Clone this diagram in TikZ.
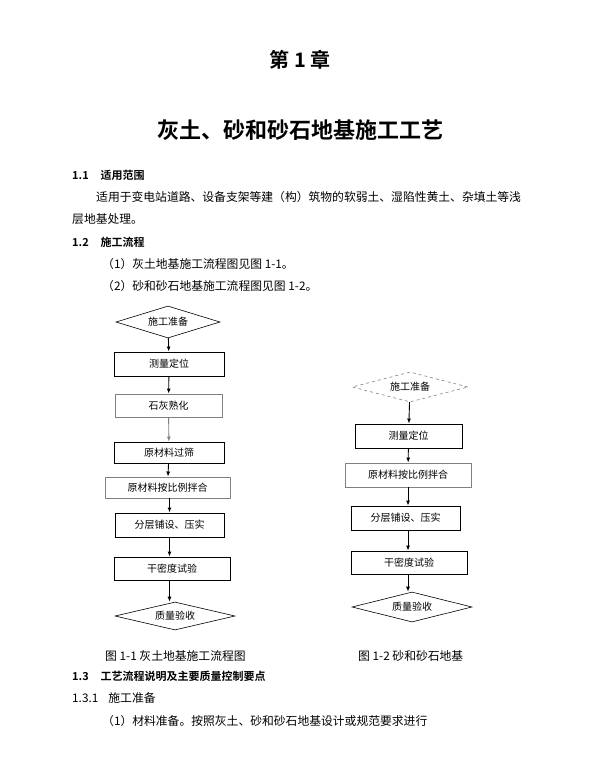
\documentclass[tikz,border=0pt]{standalone}
\usepackage{fontspec}
\newfontfamily\cjk{Noto Sans CJK SC}
\newfontfamily\cjkb{Noto Sans CJK SC Bold}
\usetikzlibrary{shapes.geometric,arrows.meta}
\begin{document}
\begin{tikzpicture}[x=1pt,y=-1pt,
  txt/.style={anchor=west,inner sep=0pt,font=\cjk\fontsize{11.8}{14}\selectfont},
  hd/.style={anchor=west,inner sep=0pt,font=\cjkb\fontsize{11}{13}\selectfont},
  bx/.style={draw,line width=0.9pt,inner sep=0pt,font=\cjk\fontsize{10}{12}\selectfont},
  dm/.style={draw,diamond,aspect=3.4,line width=0.6pt,inner sep=0pt,font=\cjk\fontsize{10}{12}\selectfont},
  ar/.style={-{Latex[length=5pt,width=4pt]},line width=0.9pt}]
\useasboundingbox (0,0) rectangle (600,768);
\node[inner sep=0pt,font=\cjkb\fontsize{20}{24}\selectfont] (t1) at (300,60) {第 1 章};
\node[inner sep=0pt,font=\cjkb\fontsize{22}{26}\selectfont] (t2) at (300,130) {灰土、砂和砂石地基施工工艺};
\node[hd] (h1) at (72,175) {1.1\hspace{12pt}适用范围};
\node[txt] (p1) at (96,197) {适用于变电站道路、设备支架等建（构）筑物的软弱土、湿陷性黄土、杂填土等浅};
\node[txt] (p2) at (72,219) {层地基处理。};
\node[hd] (h2) at (72,242) {1.2\hspace{12pt}施工流程};
\node[txt] (p3) at (102,264) {（1）灰土地基施工流程图见图 1-1。};
\node[txt] (p4) at (102,286) {（2）砂和砂石地基施工流程图见图 1-2。};
% left chart
\node[dm,minimum width=104pt,minimum height=32pt] (a0) at (168,322) {施工准备};
\node[bx,minimum width=110pt,minimum height=24pt] (a1) at (169,364) {测量定位};
\node[bx,draw=gray,minimum width=107pt,minimum height=23pt] (a2) at (168.5,405.5) {石灰熟化};
\node[bx,minimum width=110pt,minimum height=21pt] (a3) at (169,452.5) {原材料过筛};
\node[bx,draw=gray,minimum width=125pt,minimum height=21pt] (a4) at (167.5,487.5) {原材料按比例拌合};
\node[bx,minimum width=109pt,minimum height=24pt] (a5) at (169.5,525) {分层铺设、压实};
\node[bx,minimum width=116pt,minimum height=23pt] (a6) at (172,568.5) {干密度试验};
\node[dm,minimum width=120pt,minimum height=28pt] (a7) at (175,616) {质量验收};
\draw[ar] (a0) -- (a1);
\draw[ar] (a1) -- (a2);
\draw[ar,draw=gray] (a2) -- (a3);
\draw[ar] (a3) -- (a4);
\draw[ar] (a4.south -| a5) -- (a5);
\draw[ar] (a5) -- (a6.north -| a5);
\draw[ar] (a6.south -| a5) -- (a7.north -| a5);
\node[txt] (c1) at (105,656) {图 1-1 灰土地基施工流程图};
% right chart
\node[dm,draw=gray,dashed,minimum width=116pt,minimum height=30pt] (b0) at (410,387) {施工准备};
\node[bx,minimum width=107pt,minimum height=24pt] (b1) at (408.5,436) {测量定位};
\node[bx,draw=gray,minimum width=126pt,minimum height=24pt] (b2) at (408,475) {原材料按比例拌合};
\node[bx,minimum width=109pt,minimum height=24pt] (b3) at (405.5,518) {分层铺设、压实};
\node[bx,minimum width=116pt,minimum height=23pt] (b4) at (409,562.5) {干密度试验};
\node[dm,minimum width=120pt,minimum height=30pt] (b5) at (412,607) {质量验收};
\draw[ar] (b0) -- (b1);
\draw[ar] (b1) -- (b2);
\draw[ar] (b2) -- (b3.north -| b2);
\draw[ar] (b3.south -| b2) -- (b4.north -| b2);
\draw[ar] (b4.south -| b2) -- (b5.north -| b2);
\node[txt] (c2) at (358,656) {图 1-2 砂和砂石地基};
\node[hd] (h3) at (72,676) {1.3\hspace{12pt}工艺流程说明及主要质量控制要点};
\node[txt] (h4) at (72,698) {1.3.1\hspace{10pt}施工准备};
\node[txt] (p5) at (102,721) {（1）材料准备。按照灰土、砂和砂石地基设计或规范要求进行};
\end{tikzpicture}
\end{document}
